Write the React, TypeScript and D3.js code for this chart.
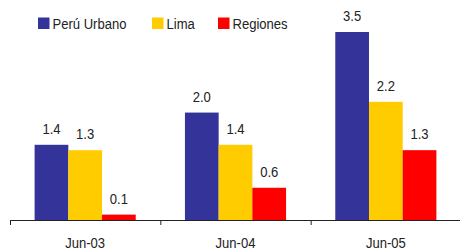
import React from "react";
import * as d3 from "d3";

const categories = ["Jun-03", "Jun-04", "Jun-05"];
const seriesNames = ["Perú Urbano", "Lima", "Regiones"];
const peruUrbano = [1.4, 2.0, 3.5];
const lima = [1.3, 1.4, 2.2];
const regiones = [0.1, 0.6, 1.3];
const colors = ["#333399", "#FFCC00", "#FF0000"];

function T({ x, y, anchor = "start", children }: { x: number; y: number; anchor?: string; children: React.ReactNode }) {
  return (
    <text transform={`translate(${x},${y}) scale(0.87,1)`} textAnchor={anchor} fontSize={15} fill="#222">
      {children}
    </text>
  );
}

export default function App() {
  const W = 460, H = 251;
  const axisY = 220;
  const x0 = d3.scaleBand<string>().domain(categories).range([10, 461]).paddingInner(0).paddingOuter(0);
  const x1 = d3.scaleBand<string>().domain(seriesNames).range([0, x0.bandwidth()]).paddingInner(0).paddingOuter(0.73);
  const y = d3.scaleLinear().domain([0, 3.5]).range([axisY, 32]);
  const series = [peruUrbano, lima, regiones];
  const font = "'Liberation Sans', Arial, sans-serif";
  const legendX = [38, 152, 218];

  return (
    <svg width={W} height={H} style={{ position: "absolute", left: 0, top: 0 }} fontFamily={font}>
      <rect width={W} height={H} fill="#fff" />
      {seriesNames.map((s, i) => (
        <g key={s}>
          <rect x={legendX[i]} y={17.5} width={11.5} height={11.5} fill={colors[i]} />
          <T x={legendX[i] + 14.5} y={28.5}>{s}</T>
        </g>
      ))}
      {categories.map((c, ci) => (
        <g key={c}>
          {series.map((vals, si) => {
            const bx = (x0(c) as number) + (x1(seriesNames[si]) as number);
            const bw = x1.bandwidth();
            const v = vals[ci];
            return (
              <g key={si}>
                <rect x={bx} y={y(v)} width={bw} height={axisY - y(v)} fill={colors[si]} />
                <T x={bx + bw / 2} y={y(v) - 11} anchor="middle">{v.toFixed(1)}</T>
              </g>
            );
          })}
          <T x={(x0(c) as number) + x0.bandwidth() / 2} y={248} anchor="middle">{c}</T>
        </g>
      ))}
      <line x1={10} x2={460} y1={axisY + 0.5} y2={axisY + 0.5} stroke="#222" strokeWidth={1} />
      {categories.map((c) => (
        <line key={c} x1={(x0(c) as number) + 0.5} x2={(x0(c) as number) + 0.5} y1={axisY} y2={axisY + 5} stroke="#222" />
      ))}
    </svg>
  );
}
